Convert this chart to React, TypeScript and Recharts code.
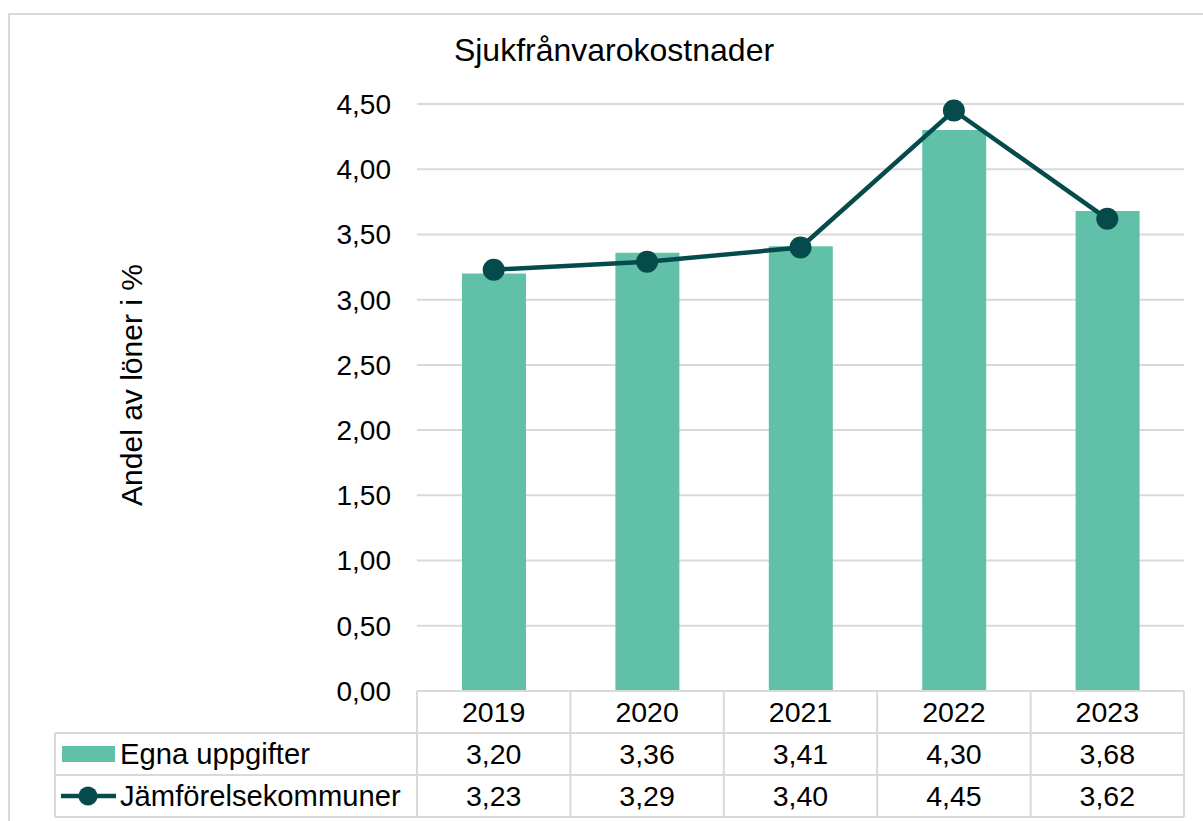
import { ComposedChart, Bar, Line, XAxis, YAxis, CartesianGrid, Label } from 'recharts';

const years = ['2019', '2020', '2021', '2022', '2023'];
const egnaUppgifter = [3.2, 3.36, 3.41, 4.3, 3.68];
const jamforelsekommuner = [3.23, 3.29, 3.4, 4.45, 3.62];
const yTicks = [0, 0.5, 1, 1.5, 2, 2.5, 3, 3.5, 4, 4.5];
const seriesNames = ['Egna uppgifter', 'Jämförelsekommuner'];
const title = 'Sjukfrånvarokostnader';
const yLabel = 'Andel av löner i %';

const data = years.map((year, i) => ({
  year,
  egna: egnaUppgifter[i],
  jamf: jamforelsekommuner[i],
}));

const BAR_COLOR = '#61c0a8';
const LINE_COLOR = '#064b4b';
const GRID = '#d9d9d9';
const FONT = '"Liberation Sans", Arial, sans-serif';

const W = 1193;
const H = 806;
const margin = { top: 89, right: 19, bottom: 4, left: 0 };
const Y_W = 407;
const ROW_H = 42;
const LEGEND_W = 362;
const band = (W - margin.left - Y_W - margin.right) / years.length;

const fmt = (v: number) => v.toFixed(2).replace('.', ',');

// data table under the plot, drawn one column per x tick
function TableTick(props: any) {
  const { x, y, payload } = props;
  const i = years.indexOf(payload.value);
  const left = x - band / 2;
  const right = x + band / 2;
  const cells = [years[i], fmt(egnaUppgifter[i]), fmt(jamforelsekommuner[i])];
  const lineProps = { stroke: GRID, strokeWidth: 2 };
  const legLeft = left - LEGEND_W;

  return (
    <g>
      {[0, 1, 2, 3].map((r) => (
        <line key={'h' + r} x1={left} x2={right} y1={y + r * ROW_H} y2={y + r * ROW_H} {...lineProps} />
      ))}
      <line x1={left} x2={left} y1={y} y2={y + 3 * ROW_H} {...lineProps} />
      {i === years.length - 1 && (
        <line x1={right} x2={right} y1={y} y2={y + 3 * ROW_H} {...lineProps} />
      )}
      {cells.map((c, r) => (
        <text
          key={'t' + r}
          x={x}
          y={y + r * ROW_H + ROW_H / 2}
          textAnchor="middle"
          dominantBaseline="central"
          fontSize={28.5}
          fontFamily={FONT}
          fill="#000"
        >
          {c}
        </text>
      ))}
      {i === 0 && (
        <g>
          {[1, 2, 3].map((r) => (
            <line key={'lh' + r} x1={legLeft} x2={left} y1={y + r * ROW_H} y2={y + r * ROW_H} {...lineProps} />
          ))}
          <line x1={legLeft} x2={legLeft} y1={y + ROW_H} y2={y + 3 * ROW_H} {...lineProps} />
          <rect x={legLeft + 7} y={y + ROW_H * 1.5 - 8} width={53} height={16} fill={BAR_COLOR} />
          <line
            x1={legLeft + 6}
            x2={legLeft + 61}
            y1={y + ROW_H * 2.5}
            y2={y + ROW_H * 2.5}
            stroke={LINE_COLOR}
            strokeWidth={4.5}
          />
          <circle cx={legLeft + 33} cy={y + ROW_H * 2.5} r={9.5} fill={LINE_COLOR} />
          {seriesNames.map((n, r) => (
            <text
              key={'ln' + r}
              x={legLeft + 65}
              y={y + (r + 1.5) * ROW_H}
              dominantBaseline="central"
              fontSize={29.2}
              fontFamily={FONT}
              fill="#000"
            >
              {n}
            </text>
          ))}
        </g>
      )}
    </g>
  );
}

function YLabel() {
  const cx = 121;
  const cy = 370;
  return (
    <text
      x={cx}
      y={cy}
      transform={`rotate(-90 ${cx} ${cy})`}
      textAnchor="middle"
      dominantBaseline="central"
      fontSize={30}
      fontFamily={FONT}
      fill="#000"
    >
      {yLabel}
    </text>
  );
}

export default function App() {
  return (
    <div
      style={{
        position: 'absolute',
        left: 8,
        top: 13,
        width: W,
        height: H,
        borderTop: `2px solid ${GRID}`,
        borderLeft: `2px solid ${GRID}`,
        background: '#fff',
        fontFamily: FONT,
      }}
    >
      <div
        style={{
          position: 'absolute',
          left: 404,
          top: 19,
          width: 400,
          textAlign: 'center',
          fontSize: 32,
          lineHeight: '32px',
          color: '#000',
          whiteSpace: 'nowrap',
        }}
      >
        {title}
      </div>
      <div style={{ position: 'absolute', left: 0, top: 0 }}>
        <ComposedChart width={W} height={H} data={data} margin={margin}>
          <CartesianGrid vertical={false} stroke={GRID} strokeWidth={2} />
          <XAxis
            dataKey="year"
            axisLine={false}
            tickLine={false}
            tickSize={0}
            tickMargin={0}
            height={3 * ROW_H}
            interval={0}
            tick={(p: any) => <TableTick {...p} />}
          />
          <YAxis
            width={Y_W}
            domain={[0, 4.5]}
            ticks={yTicks}
            tickFormatter={fmt}
            axisLine={false}
            tickLine={false}
            tickSize={0}
            tickMargin={26}
            tick={{ fontSize: 28, fill: '#000', fontFamily: FONT }}
          >
            <Label content={() => <YLabel />} />
          </YAxis>
          <Bar dataKey="egna" name={seriesNames[0]} fill={BAR_COLOR} barSize={64} isAnimationActive={false} />
          <Line
            dataKey="jamf"
            name={seriesNames[1]}
            type="linear"
            stroke={LINE_COLOR}
            strokeWidth={4.5}
            dot={{ r: 11, fill: LINE_COLOR, stroke: 'none' }}
            activeDot={false}
            isAnimationActive={false}
          />
        </ComposedChart>
      </div>
    </div>
  );
}
